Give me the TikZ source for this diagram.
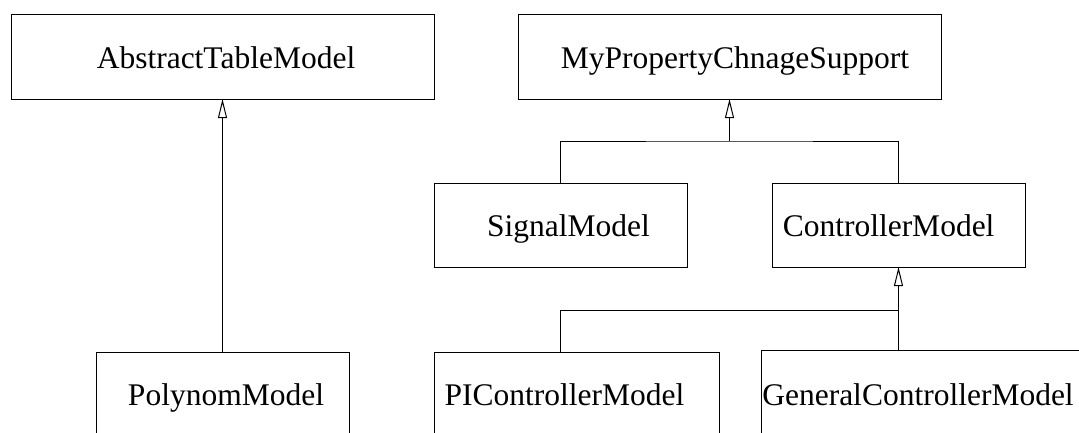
\documentclass[tikz,border=0pt]{standalone}
\usepackage{fontspec}
\setmainfont{Liberation Serif}
\usetikzlibrary{arrows.meta}
\begin{document}
\begin{tikzpicture}[x=1pt,y=-1pt,
  box/.style={draw, line width=1pt, inner sep=0pt, outer sep=0pt},
  lbl/.style={anchor=base, inner sep=0pt, outer sep=0pt, font=\fontsize{31.5}{36}\selectfont},
  conn/.style={line width=1pt},
  inh/.style={conn, -{Triangle[open, length=19pt, width=9pt, line width=1pt]}},
]
\useasboundingbox (0,0) rectangle (1079,432);
\clip (0,0) rectangle (1079,432);
\fill[white] (0,0) rectangle (1079,432);

% boxes
\node[box, minimum width=423pt, minimum height=85pt] (atm)  at (222.5,56.5) {};
\node[box, minimum width=423pt, minimum height=85pt] (mps)  at (729.5,56.5) {};
\node[box, minimum width=253pt, minimum height=84pt] (sig)  at (560.5,225) {};
\node[box, minimum width=253pt, minimum height=84pt] (ctrl) at (898.5,225) {};
\node[box, minimum width=253pt, minimum height=85pt] (poly) at (222.5,394.5) {};
\node[box, minimum width=285pt, minimum height=85pt] (pic)  at (576.5,394.5) {};
\node[box, minimum width=340pt, minimum height=85pt] (gcm)  at (931,392.5) {};

% labels
\node[lbl] (atm-t)  at (226,68)  {AbstractTableModel};
\node[lbl] (mps-t)  at (735,68)  {MyPropertyChnageSupport};
\node[lbl] (sig-t)  at (568.5,236) {SignalModel};
\node[lbl] (ctrl-t) at (888.6,236) {ControllerModel};
\node[lbl] (poly-t) at (226,405) {PolynomModel};
\node[lbl] (pic-t)  at (564.5,405) {PIControllerModel};
\node[lbl] (gcm-t)  at (918,405) {GeneralControllerModel};

% connectors
\draw[inh] (poly.north) -- (atm.south);

\coordinate (j1) at (729.5,141);
\draw[conn] (sig.north) |- (j1) -| (ctrl.north);
\draw[inh] (j1) -- (mps.south);

\coordinate (j2) at (898.5,310);
\draw[conn] (sig.south |- pic.north) |- (j2);
\draw[conn] (gcm.north -| ctrl.south) -- (j2);
\draw[inh] (j2) -- (ctrl.south);
\end{tikzpicture}
\end{document}
